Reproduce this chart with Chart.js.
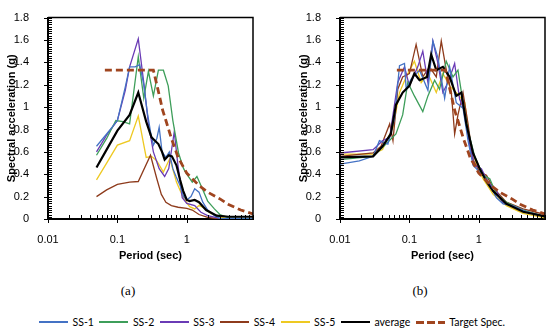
<!DOCTYPE html>
<html>
<head>
<meta charset="utf-8">
<script src="https://cdn.jsdelivr.net/npm/chart.js@4.4.1/dist/chart.umd.min.js"></script>
<style>
  body { margin: 0; background: #fff; }
  #wrap { position: relative; width: 550px; height: 335px; font-family: Lato, sans-serif; color: #000; }
  canvas { position: absolute; top: 0; }
  #chartA { left: 0; }
  #chartB { left: 292px; }
  .panel { position: absolute; top: 283px; font-family: 'Liberation Serif', serif; font-size: 13px; transform: translateX(-50%); }
  #legend { position: absolute; top: 314px; left: 39px; display: flex; align-items: center; font-size: 10.5px; line-height: 16px; white-space: nowrap; }
  .sw { width: 29px; height: 2px; margin-right: 4.5px; }
  .lab { margin-right: 5.5px; }
</style>
</head>
<body>
<div id="wrap">
  <canvas id="chartA" width="258" height="270"></canvas>
  <canvas id="chartB" width="258" height="270"></canvas>
  <div class="panel" style="left:128px">(a)</div>
  <div class="panel" style="left:420px">(b)</div>
  <div id="legend"></div>
</div>
<script>
// series names and colours
const seriesNames = ['SS-1', 'SS-2', 'SS-3', 'SS-4', 'SS-5', 'average', 'Target Spec.'];
const seriesColors = ['#4472C4', '#3E9E5A', '#6A3BB5', '#8E3B1C', '#EEC922', '#000000', '#A0451F'];

const xTickValues = [0.01, 0.1, 1];
const yTickValues = [0, 0.2, 0.4, 0.6, 0.8, 1, 1.2, 1.4, 1.6, 1.8];

// target spectrum (same in both panels)
const targetT  = [0.066, 0.33, 0.38, 0.45, 0.5, 0.6, 0.75, 1.0, 1.5, 2, 3, 4, 6, 9];
const targetSa = [1.33, 1.33, 1.17, 0.97, 0.88, 0.72, 0.55, 0.41, 0.3, 0.24, 0.18, 0.13, 0.08, 0.045];

// (a) unscaled records
const aT1  = [0.05, 0.07, 0.1, 0.13, 0.15, 0.18, 0.21, 0.24, 0.27, 0.3, 0.33, 0.37, 0.4, 0.44, 0.5, 0.56, 0.63, 0.7, 0.8, 0.9, 1.0, 1.15, 1.3, 1.5, 1.7, 2.0, 2.5, 3.0, 9];
const aSa1 = [0.65, 0.76, 0.88, 1.18, 1.36, 1.36, 1.38, 1.2, 0.95, 0.78, 0.66, 0.72, 0.82, 0.6, 0.55, 0.6, 0.45, 0.38, 0.3, 0.2, 0.17, 0.2, 0.27, 0.24, 0.15, 0.08, 0.03, 0.005, 0];
const aT2  = [0.05, 0.07, 0.095, 0.12, 0.15, 0.2, 0.24, 0.28, 0.33, 0.39, 0.46, 0.54, 0.63, 0.76, 0.9, 1.0, 1.2, 1.4, 1.6, 2.0, 2.5, 3.0, 4.0, 9];
const aSa2 = [0.57, 0.72, 0.88, 0.87, 0.85, 1.45, 1.08, 1.32, 1.1, 1.33, 1.33, 1.19, 0.88, 0.59, 0.45, 0.4, 0.33, 0.38, 0.3, 0.16, 0.09, 0.04, 0.01, 0];
const aT3  = [0.05, 0.07, 0.1, 0.13, 0.15, 0.2, 0.24, 0.28, 0.33, 0.4, 0.48, 0.55, 0.66, 0.74, 0.86, 1.0, 1.3, 1.6, 2.0, 3.0, 9];
const aSa3 = [0.6, 0.75, 0.88, 1.15, 1.36, 1.61, 1.22, 0.85, 0.6, 0.45, 0.38, 0.45, 0.78, 0.5, 0.19, 0.14, 0.12, 0.06, 0.03, 0.005, 0];
const aT4  = [0.05, 0.07, 0.1, 0.15, 0.2, 0.3, 0.37, 0.43, 0.5, 0.6, 0.75, 1.0, 1.2, 1.5, 2.0, 3.0, 9];
const aSa4 = [0.2, 0.26, 0.31, 0.33, 0.335, 0.57, 0.36, 0.22, 0.15, 0.12, 0.105, 0.095, 0.08, 0.04, 0.015, 0, 0];
const aT5  = [0.05, 0.07, 0.1, 0.15, 0.2, 0.26, 0.31, 0.37, 0.46, 0.57, 0.71, 0.89, 1.1, 1.3, 1.5, 1.8, 2.2, 3.0, 4.0, 9];
const aSa5 = [0.35, 0.5, 0.66, 0.7, 0.92, 0.55, 0.56, 0.52, 0.42, 0.54, 0.33, 0.19, 0.11, 0.09, 0.12, 0.1, 0.05, 0.02, 0, 0];
const aTAvg  = [0.05, 0.07, 0.1, 0.15, 0.2, 0.26, 0.31, 0.39, 0.44, 0.48, 0.55, 0.61, 0.71, 0.8, 0.89, 1.0, 1.1, 1.3, 1.5, 1.9, 2.7, 4.0, 9];
const aSaAvg = [0.46, 0.62, 0.79, 0.93, 1.13, 0.87, 0.73, 0.67, 0.6, 0.53, 0.57, 0.56, 0.48, 0.35, 0.25, 0.17, 0.16, 0.17, 0.15, 0.08, 0.03, 0.02, 0.02];

// (b) scaled records
const bT1  = [0.01, 0.019, 0.03, 0.037, 0.049, 0.061, 0.072, 0.085, 0.09, 0.106, 0.14, 0.185, 0.218, 0.258, 0.322, 0.38, 0.474, 0.593, 0.7, 0.826, 1.03, 1.29, 1.8, 2.24, 3.12, 4.86, 9];
const bSa1 = [0.49, 0.52, 0.56, 0.7, 0.67, 0.9, 1.37, 1.39, 1.16, 1.25, 1.33, 1.15, 1.59, 1.44, 1.08, 1.36, 1.04, 0.99, 0.7, 0.48, 0.42, 0.36, 0.19, 0.136, 0.12, 0.065, 0.02];
const bT2  = [0.01, 0.03, 0.046, 0.064, 0.08, 0.095, 0.118, 0.156, 0.185, 0.231, 0.272, 0.34, 0.425, 0.501, 0.593, 0.7, 0.874, 1.15, 1.44, 1.8, 2.5, 4.35, 9];
const bSa2 = [0.53, 0.56, 0.67, 0.76, 0.93, 1.22, 1.1, 0.96, 1.1, 1.24, 1.16, 1.41, 1.27, 1.33, 1.04, 0.79, 0.56, 0.39, 0.36, 0.22, 0.15, 0.08, 0.02];
const bT3  = [0.01, 0.03, 0.041, 0.052, 0.068, 0.085, 0.1, 0.132, 0.156, 0.185, 0.218, 0.258, 0.304, 0.36, 0.449, 0.53, 0.627, 0.74, 0.874, 1.09, 1.36, 1.8, 2.19, 3.12, 4.86, 9];
const bSa3 = [0.59, 0.62, 0.7, 0.73, 1.22, 1.36, 1.19, 1.36, 1.5, 1.22, 1.59, 1.39, 1.13, 1.22, 1.39, 1.07, 0.96, 0.65, 0.48, 0.45, 0.33, 0.25, 0.15, 0.11, 0.065, 0.02];
const bT4  = [0.01, 0.03, 0.039, 0.052, 0.058, 0.068, 0.08, 0.1, 0.125, 0.156, 0.195, 0.244, 0.288, 0.34, 0.402, 0.449, 0.501, 0.593, 0.7, 0.826, 1.03, 1.29, 1.61, 2.5, 4.35, 9];
const bSa4 = [0.56, 0.59, 0.65, 0.85, 0.7, 1.16, 1.27, 1.3, 1.56, 1.27, 1.36, 1.27, 1.59, 1.33, 1.13, 0.76, 0.93, 1.13, 0.85, 0.53, 0.42, 0.39, 0.28, 0.15, 0.09, 0.04];
const bT5  = [0.01, 0.03, 0.041, 0.058, 0.072, 0.09, 0.118, 0.148, 0.185, 0.244, 0.304, 0.38, 0.474, 0.627, 0.74, 0.923, 1.15, 1.61, 2.5, 4.35, 9];
const bSa5 = [0.58, 0.58, 0.62, 0.82, 1.13, 1.27, 1.41, 1.22, 1.3, 1.13, 1.3, 1.19, 1.13, 1.04, 0.7, 0.48, 0.36, 0.22, 0.12, 0.05, 0.01];
const bTAvg  = [0.01, 0.03, 0.041, 0.054, 0.064, 0.08, 0.1, 0.118, 0.14, 0.18, 0.206, 0.244, 0.304, 0.38, 0.474, 0.561, 0.662, 0.826, 1.03, 1.29, 1.61, 2.5, 4.35, 9];
const bSaAvg = [0.55, 0.56, 0.65, 0.76, 1.02, 1.13, 1.19, 1.3, 1.24, 1.27, 1.47, 1.33, 1.36, 1.27, 1.1, 1.13, 0.85, 0.59, 0.45, 0.335, 0.25, 0.136, 0.065, 0.023];

function pts(T, Sa) {
  return T.map((t, i) => ({ x: t, y: Sa[i] }));
}

// box on top/right + inside minor ticks like the Excel original
const boxTicks = {
  id: 'boxTicks',
  afterDraw(chart) {
    const { ctx, chartArea: a, scales: { x, y } } = chart;
    ctx.save();
    ctx.strokeStyle = '#000';
    ctx.lineWidth = 1.5;
    ctx.beginPath();
    ctx.moveTo(a.left, a.top);
    ctx.lineTo(a.right, a.top);
    ctx.lineTo(a.right, a.bottom);
    ctx.stroke();
    ctx.lineWidth = 1;
    ctx.beginPath();
    for (let d = -2; d <= 0; d++) {
      for (let m = 1; m <= 9; m++) {
        const v = m * Math.pow(10, d);
        if (v > x.max + 1e-9) break;
        const px = Math.round(x.getPixelForValue(v)) + 0.5;
        ctx.moveTo(px, a.bottom - 4);
        ctx.lineTo(px, m === 1 ? a.bottom + 4 : a.bottom);
      }
    }
    for (let i = 0; i <= 90; i++) {
      const py = Math.round(y.getPixelForValue(i * 0.02)) + 0.5;
      ctx.moveTo(i % 10 === 0 ? a.left - 4 : a.left, py);
      ctx.lineTo(a.left + 4, py);
    }
    ctx.stroke();
    ctx.restore();
  }
};

function makeChart(id, groups) {
  const datasets = groups.map((g, i) => ({
    label: seriesNames[i],
    data: pts(g[0], g[1]),
    borderColor: seriesColors[i],
    borderWidth: i === 6 ? 2.8 : (i === 5 ? 2.2 : 1.3),
    borderDash: i === 6 ? [7, 4] : [],
    pointRadius: 0,
    fill: false,
    order: i === 6 ? 0 : (i === 5 ? 1 : i + 2)
  }));
  new Chart(document.getElementById(id), {
    type: 'line',
    data: { datasets: datasets },
    plugins: [boxTicks],
    options: {
      responsive: false,
      animation: false,
      devicePixelRatio: 1,
      layout: { padding: { top: 8, right: 5, left: 0, bottom: 0 } },
      plugins: { legend: { display: false }, tooltip: { enabled: false } },
      elements: { line: { tension: 0 } },
      scales: {
        x: {
          type: 'logarithmic',
          min: 0.01,
          max: 9,
          grid: { display: false },
          border: { display: true, color: '#000', width: 2 },
          afterBuildTicks: s => { s.ticks = xTickValues.map(v => ({ value: v })); },
          afterFit: s => { s.height = 51; },
          ticks: { autoSkip: false, maxRotation: 0, padding: 6, color: '#000', font: { size: 11 }, callback: v => String(v) },
          title: { display: true, text: 'Period (sec)', color: '#000', font: { size: 11, weight: 'bold' }, padding: { top: 0, bottom: 7 } }
        },
        y: {
          min: 0,
          max: 1.8,
          grid: { display: false },
          border: { display: true, color: '#000', width: 2 },
          afterBuildTicks: s => { s.ticks = yTickValues.map(v => ({ value: v })); },
          afterFit: s => { s.width = 48; },
          ticks: { padding: 11, color: '#000', font: { size: 11 }, callback: v => String(Math.round(v * 10) / 10) },
          title: { display: true, text: 'Spectral acceleration (g)', color: '#000', font: { size: 11, weight: 'bold' }, padding: { top: 5, bottom: 0 } }
        }
      }
    }
  });
}

makeChart('chartA', [[aT1, aSa1], [aT2, aSa2], [aT3, aSa3], [aT4, aSa4], [aT5, aSa5], [aTAvg, aSaAvg], [targetT, targetSa]]);
makeChart('chartB', [[bT1, bSa1], [bT2, bSa2], [bT3, bSa3], [bT4, bSa4], [bT5, bSa5], [bTAvg, bSaAvg], [targetT, targetSa]]);

// legend shared by both panels
const legend = document.getElementById('legend');
seriesNames.forEach((name, i) => {
  const sw = document.createElement('div');
  sw.className = 'sw';
  const c = seriesColors[i];
  if (i === 6) {
    sw.style.height = '3px';
    sw.style.background = 'repeating-linear-gradient(90deg, ' + c + ' 0 8px, transparent 8px 11px)';
  } else {
    sw.style.background = c;
    if (i === 5) sw.style.height = '2.5px';
  }
  const lab = document.createElement('span');
  lab.className = 'lab';
  lab.textContent = name;
  legend.appendChild(sw);
  legend.appendChild(lab);
});
</script>
</body>
</html>
